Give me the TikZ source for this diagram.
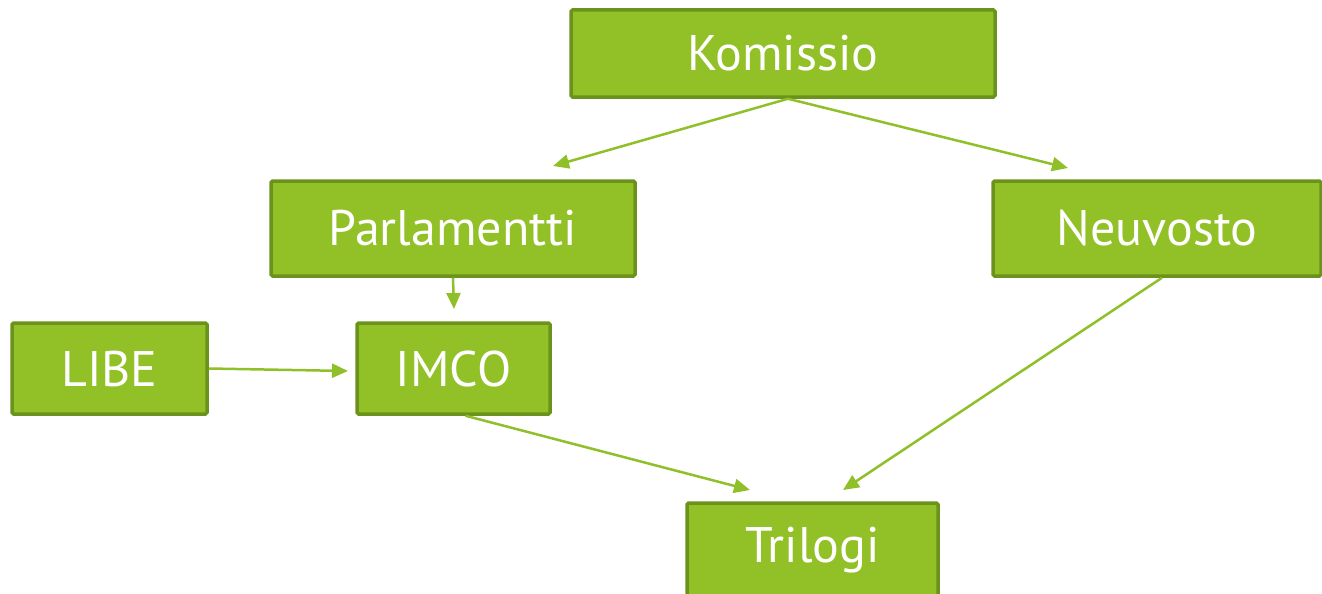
\documentclass[tikz,border=0pt]{standalone}
\usepackage{fontspec}
\setmainfont{PT Sans}
\usetikzlibrary{arrows.meta}
\definecolor{boxfill}{HTML}{92C127}
\definecolor{boxline}{HTML}{6B921C}
\definecolor{arrowc}{HTML}{8FC02A}
\begin{document}
\begin{tikzpicture}[x=1pt,y=-1pt,
  box/.style={draw=boxline,fill=boxfill,line width=3.5pt,rounded corners=1.5pt,text=white,font=\fontsize{50}{60}\selectfont,inner sep=0pt},
  conn/.style={draw=arrowc,line width=2.5pt,-{Triangle[length=16pt,width=14pt]}}]
\useasboundingbox (0,0) rectangle (1322,594);
\node[box,minimum width=424pt,minimum height=87pt] (kom) at (783,53.5) {Komissio};
\node[box,minimum width=364pt,minimum height=95pt] (par) at (453,228.5) {Parlamentti};
\node[box,minimum width=328pt,minimum height=95pt] (neu) at (1157,228.5) {Neuvosto};
\node[box,minimum width=195pt,minimum height=91pt] (libe) at (109.5,368.5) {LIBE};
\node[box,minimum width=193pt,minimum height=91pt] (imco) at (453.5,368.5) {IMCO};
\node[box,minimum width=251pt,minimum height=94pt] (tri) at (812.5,550) {Trilogi};
\coordinate (kp) at (553,166);
\coordinate (kn) at (1068,168);
\coordinate (pi) at (454,309);
\coordinate (li) at (348,371);
\coordinate (it) at (750,490);
\coordinate (nt) at (843,490);
\draw[conn] (kom.south) ++(5,0) -- (kp);
\draw[conn] (kom.south) ++(5,0) -- (kn);
\draw[conn] (par.south) -- (pi);
\draw[conn] (libe.east) -- (li);
\draw[conn] (imco.south) ++(12,0) -- (it);
\draw[conn] (neu.south) ++(5,0) -- (nt);
\end{tikzpicture}
\end{document}
